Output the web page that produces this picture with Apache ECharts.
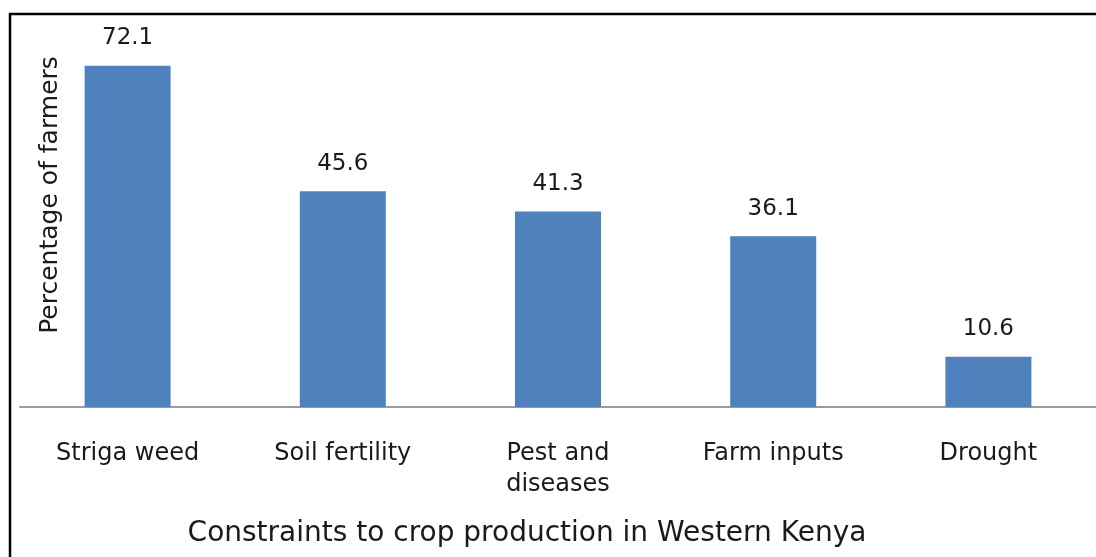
<!DOCTYPE html>
<html>
<head>
<meta charset="utf-8">
<script src="https://cdn.jsdelivr.net/npm/echarts@6/dist/echarts.min.js"></script>
<style>
html,body{margin:0;padding:0;background:#fff;}
#chart{width:1096px;height:557px;}
</style>
</head>
<body>
<div id="chart"></div>
<script>
const categories = ["Striga weed", "Soil fertility", "Pest and\ndiseases", "Farm inputs", "Drought"];
const percentages = [72.1, 45.6, 41.3, 36.1, 10.6];
const xAxisTitle = "Constraints to crop production in Western Kenya";
const yAxisTitle = "Percentage of farmers";

const FONT = "DejaVu Sans";
const chart = echarts.init(document.getElementById('chart'), null, {renderer: 'canvas'});
chart.setOption({
  animation: false,
  backgroundColor: '#ffffff',
  grid: {left: 20, right: -6, top: 0, bottom: 150, containLabel: false},
  xAxis: {
    type: 'category',
    data: categories,
    axisLine: {show: true, lineStyle: {color: '#9a9a9a', width: 2}},
    axisTick: {show: false},
    axisLabel: {fontFamily: FONT, fontSize: 24, color: '#1a1a1a', margin: 31, lineHeight: 31, interval: 0},
    name: xAxisTitle,
    nameLocation: 'middle',
    nameGap: 113,
    nameTextStyle: {fontFamily: FONT, fontSize: 28, color: '#1a1a1a', padding: [0, 62, 0, 0]}
  },
  yAxis: {
    type: 'value',
    min: 0,
    max: 86,
    show: true,
    axisLine: {show: false},
    axisTick: {show: false},
    axisLabel: {show: false},
    splitLine: {show: false},
    name: yAxisTitle,
    nameLocation: 'middle',
    nameRotate: 90,
    nameGap: -43,
    nameTextStyle: {fontFamily: FONT, fontSize: 25, color: '#1a1a1a', padding: [0, 0, 0, 17]}
  },
  series: [{
    type: 'bar',
    data: percentages,
    barWidth: 86,
    itemStyle: {color: '#4f81bd'},
    label: {
      show: true,
      position: 'top',
      distance: 16,
      fontFamily: FONT,
      fontSize: 23,
      color: '#1a1a1a',
      formatter: p => p.value.toFixed(1)
    }
  }],
  graphic: [
    {type: 'line', shape: {x1: 9, y1: 14, x2: 1096, y2: 14}, style: {stroke: '#000', lineWidth: 2.5}, silent: true},
    {type: 'line', shape: {x1: 10, y1: 13, x2: 10, y2: 557}, style: {stroke: '#000', lineWidth: 2.5}, silent: true}
  ]
});
</script>
</body>
</html>
